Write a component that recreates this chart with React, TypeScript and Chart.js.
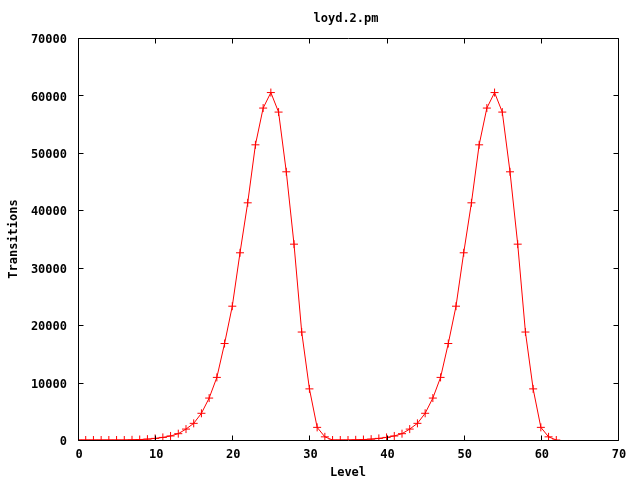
import React, { useEffect, useRef } from 'react';
import { Chart, registerables } from 'chart.js';

Chart.register(...registerables);

const TITLE = 'loyd.2.pm';
const X_LABEL = 'Level';
const Y_LABEL = 'Transitions';

const levels = [
  0, 1, 2, 3, 4, 5, 6, 7, 8, 9, 10, 11, 12, 13, 14, 15, 16, 17, 18, 19, 20,
  21, 22, 23, 24, 25, 26, 27, 28, 29, 30, 31, 32, 33, 34, 35, 36, 37, 38, 39, 40,
  41, 42, 43, 44, 45, 46, 47, 48, 49, 50, 51, 52, 53, 54, 55, 56, 57, 58, 59, 60,
  61, 62,
];

const transitions = [
  0, 0, 0, 0, 0, 0, 0, 30, 80, 150, 280,
  450, 700, 1100, 1900, 2900, 4650, 7300, 10900, 16800, 23300,
  32600, 41300, 51400, 57800, 60500, 57100, 46700, 34100, 18800, 8900,
  2200, 550, 0, 0, 0, 30, 80, 150, 280, 450,
  700, 1100, 1900, 2900, 4650, 7300, 10900, 16800, 23300, 32600,
  41300, 51400, 57800, 60500, 57100, 46700, 34100, 18800, 8900, 2200,
  550, 0,
];

const xTicks = [0, 10, 20, 30, 40, 50, 60, 70];
const yTicks = [0, 10000, 20000, 30000, 40000, 50000, 60000, 70000];

const FONT_FAMILY = '"DejaVu Sans Mono", "Liberation Mono", monospace';
const LINE_COLOR = 'rgb(255,0,0)';

const framePlugin = {
  id: 'gnuplotFrame',
  afterDraw(chart: any) {
    const { ctx, chartArea } = chart;
    const xs = chart.scales.x;
    const ys = chart.scales.y;
    const l = Math.round(chartArea.left) + 0.5;
    const r = Math.round(chartArea.right) + 0.5;
    const t = Math.round(chartArea.top) + 0.5;
    const b = Math.round(chartArea.bottom) + 0.5;
    const tl = 5;
    ctx.save();
    ctx.strokeStyle = '#000';
    ctx.lineWidth = 1;
    ctx.beginPath();
    ctx.rect(l, t, r - l, b - t);
    xTicks.forEach((v) => {
      const px = Math.round(xs.getPixelForValue(v)) + 0.5;
      ctx.moveTo(px, b);
      ctx.lineTo(px, b - tl);
      ctx.moveTo(px, t);
      ctx.lineTo(px, t + tl);
    });
    yTicks.forEach((v) => {
      const py = Math.round(ys.getPixelForValue(v)) + 0.5;
      ctx.moveTo(l, py);
      ctx.lineTo(l + tl, py);
      ctx.moveTo(r, py);
      ctx.lineTo(r - tl, py);
    });
    ctx.stroke();
    ctx.fillStyle = '#000';
    ctx.font = `bold 12px ${FONT_FAMILY}`;
    ctx.textAlign = 'center';
    ctx.textBaseline = 'middle';
    ctx.fillText(TITLE, 346, 19);
    ctx.restore();
  },
};

export default function App() {
  const canvasRef = useRef<HTMLCanvasElement | null>(null);

  useEffect(() => {
    const canvas = canvasRef.current;
    if (!canvas) return;
    const tickFont = { family: FONT_FAMILY, size: 12, weight: 'bold' as const };
    const chart = new Chart(canvas, {
      type: 'line',
      data: {
        datasets: [
          {
            data: levels.map((x, i) => ({ x, y: transitions[i] })),
            borderColor: LINE_COLOR,
            backgroundColor: LINE_COLOR,
            borderWidth: 1,
            pointStyle: 'cross',
            pointRadius: 4,
            pointBorderWidth: 1,
            pointBorderColor: LINE_COLOR,
            pointHoverRadius: 4,
            tension: 0,
            fill: false,
          },
        ],
      },
      options: {
        animation: false,
        responsive: false,
        devicePixelRatio: 1,
        layout: { padding: { top: 38, right: 22, left: 0, bottom: 0 } },
        plugins: {
          legend: { display: false },
          tooltip: { enabled: false },
          title: { display: false },
        },
        scales: {
          x: {
            type: 'linear',
            min: 0,
            max: 70,
            afterFit: (scale: any) => {
              scale.height = 40;
            },
            afterBuildTicks: (scale: any) => {
              scale.ticks = xTicks.map((v) => ({ value: v }));
            },
            grid: { display: false, drawTicks: false },
            border: { display: false },
            ticks: {
              padding: 8,
              labelOffset: 1,
              color: '#000',
              font: tickFont,
              maxRotation: 0,
              autoSkip: false,
              callback: (v: any) => String(v),
            },
            title: {
              display: true,
              text: X_LABEL,
              color: '#000',
              font: tickFont,
              padding: { top: 0, bottom: 0 },
            },
          },
          y: {
            type: 'linear',
            min: 0,
            max: 70000,
            afterFit: (scale: any) => {
              scale.width = 78;
            },
            afterBuildTicks: (scale: any) => {
              scale.ticks = yTicks.map((v) => ({ value: v }));
            },
            grid: { display: false, drawTicks: false },
            border: { display: false },
            ticks: {
              padding: 11,
              labelOffset: 2,
              color: '#000',
              font: tickFont,
              autoSkip: false,
              callback: (v: any) => String(v),
            },
            title: {
              display: true,
              text: Y_LABEL,
              color: '#000',
              font: tickFont,
              padding: { top: 7, bottom: 0 },
            },
          },
        },
      },
      plugins: [framePlugin],
    });
    return () => chart.destroy();
  }, []);

  return (
    <div style={{ position: 'absolute', left: 0, top: 0, width: 640, height: 480, background: '#fff' }}>
      <canvas ref={canvasRef} width={640} height={480} style={{ display: 'block' }} />
    </div>
  );
}
